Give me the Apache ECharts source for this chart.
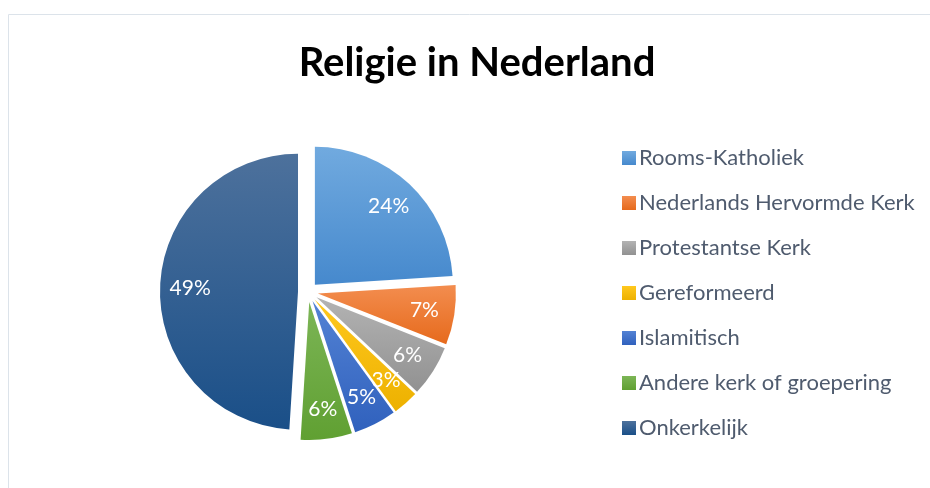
<!DOCTYPE html>
<html>
<head>
<meta charset="utf-8">
<script src="https://cdn.jsdelivr.net/npm/echarts@6/dist/echarts.min.js"></script>
<style>html,body{margin:0;padding:0;background:#fff}#c{width:930px;height:488px}</style>
</head>
<body>
<div id="c"></div>
<script>
const categories = ['Rooms-Katholiek','Nederlands Hervormde Kerk','Protestantse Kerk','Gereformeerd','Islamitisch','Andere kerk of groepering','Onkerkelijk'];
const values = [24, 7, 6, 3, 5, 6, 49];
const topColors = ['#71aadf','#f38d4f','#b3b3b3','#ffc81e','#5382d4','#7cb556','#4d719c'];
const bottomColors = ['#4689cd','#e66a1c','#919191','#edb100','#3061bd','#60a032','#1a4f88'];

const grad = i => new echarts.graphic.LinearGradient(0, 0, 0, 1, [
  {offset: 0, color: topColors[i]}, {offset: 1, color: bottomColors[i]}
]);
const FONT = 'Lato';
const chart = echarts.init(document.getElementById('c'), null, {renderer: 'canvas'});
const R = 138;
chart.setOption({
  animation: false,
  title: {
    text: 'Religie in Nederland', left: 472, textAlign: 'center', top: 38,
    textStyle: {fontFamily: FONT, fontWeight: 'bold', fontSize: 40, color: '#000'}
  },
  graphic: [{
    type: 'rect', shape: {x: 8.5, y: 14.5, width: 940, height: 500},
    style: {fill: 'none', stroke: '#dce3ea', lineWidth: 1}, silent: true, z: -10
  }],
  legend: {
    orient: 'vertical', left: 622, top: 147, padding: 0, itemWidth: 14, itemHeight: 14, itemGap: 23,
    icon: 'rect', data: categories,
    textStyle: {fontFamily: FONT, fontSize: 22, lineHeight: 22, color: '#4f5b6e', padding: [0,0,0,-2]}
  },
  series: [{
    type: 'pie', center: [308, 292], radius: R, startAngle: 90, clockwise: true,
    selectedMode: 'multiple', selectedOffset: 10,
    label: {show: false}, labelLine: {show: false},
    itemStyle: {borderColor: '#fff', borderWidth: 0},
    data: categories.map((n, i) => ({name: n, value: values[i], selected: true, itemStyle: {color: grad(i)}}))
  }, {
    type: 'pie', center: [308, 292], radius: [R * 0.52, R], startAngle: 90, clockwise: true,
    selectedMode: 'multiple', selectedOffset: 10, silent: true,
    itemStyle: {color: 'rgba(0,0,0,0)'},
    labelLayout: {hideOverlap: false},
    label: {show: true, position: 'inside', formatter: p => p.value + '%', color: '#fff', fontFamily: FONT, fontSize: 21},
    labelLine: {show: false},
    data: categories.map((n, i) => ({name: n, value: values[i], selected: true}))
  }]
});
</script>
</body>
</html>
